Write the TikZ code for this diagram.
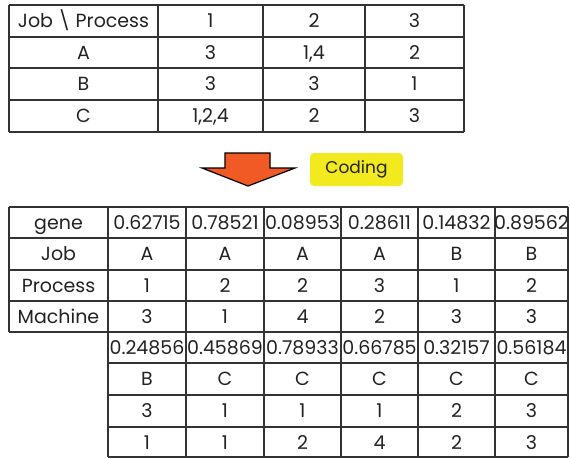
\documentclass[tikz,border=0pt]{standalone}
\usepackage{fontspec}
\setmainfont{Poppins}
\definecolor{linegray}{HTML}{333333}
\definecolor{txtgray}{HTML}{222222}
\definecolor{arroworange}{HTML}{F15A24}
\definecolor{codeyellow}{HTML}{F2EA1E}
\begin{document}
\begin{tikzpicture}[x=1pt,y=-1pt,
  grid/.style={draw=linegray, line width=1.1pt},
  cell/.style={font=\fontsize{19}{21}\selectfont, text=txtgray, inner sep=0pt,
    text height=13pt, text depth=0pt, anchor=center}]
\useasboundingbox (0,0) rectangle (570,458);

% ---------- top table ----------
\foreach \y in {5,37,68,100,132} \draw[grid] (9,\y) -- (464,\y);
\foreach \x in {9,158,263,365,464} \draw[grid] (\x,5) -- (\x,132);

\foreach[count=\c] \x/\t in {83.5/{Job \textbackslash\ Process},210.5/1,314/2,414.5/3}
  \node[cell] (h\c) at (\x,21) {\t};
\foreach[count=\c] \x/\t in {83.5/A,210.5/3,314/{1,4},414.5/2}
  \node[cell] (a\c) at (\x,52.5) {\t};
\foreach[count=\c] \x/\t in {83.5/B,210.5/3,314/3,414.5/1}
  \node[cell] (b\c) at (\x,84) {\t};
\foreach[count=\c] \x/\t in {83.5/C,210.5/{1,2,4},314/2,414.5/3}
  \node[cell] (c\c) at (\x,116) {\t};

% ---------- arrow and coding label ----------
\draw[fill=arroworange, draw=black, line width=1.2pt, line join=miter]
  (225,153) -- (270,153) -- (270,168) -- (295,168) -- (248,186)
  -- (202,168) -- (225,168) -- cycle;
\node[fill=codeyellow, rounded corners=4pt, minimum width=93pt, minimum height=33pt,
  inner sep=0pt, font=\fontsize{17}{19}\selectfont, text=txtgray] (coding) at (356.5,169.5) {Coding};

% ---------- bottom table ----------
\foreach \y in {207,238,270,301,332} \draw[grid] (9,\y) -- (568,\y);
\foreach \y in {363,395,427,457} \draw[grid] (108,\y) -- (568,\y);
\draw[grid] (9,207) -- (9,332);
\foreach \x in {108,186,264,341,418,495,568} \draw[grid] (\x,207) -- (\x,457);

\foreach[count=\c] \x/\t in {58.5/gene,147/0.62715,225/0.78521,302.5/0.08953,379.5/0.28611,456.5/0.14832,531.5/0.89562}
  \node[cell] (g\c) at (\x,222.5) {\t};
\foreach[count=\c] \x/\t in {58.5/Job,147/A,225/A,302.5/A,379.5/A,456.5/B,531.5/B}
  \node[cell] (j\c) at (\x,254) {\t};
\foreach[count=\c] \x/\t in {58.5/Process,147/1,225/2,302.5/2,379.5/3,456.5/1,531.5/2}
  \node[cell] (p\c) at (\x,285.5) {\t};
\foreach[count=\c] \x/\t in {58.5/Machine,147/3,225/1,302.5/4,379.5/2,456.5/3,531.5/3}
  \node[cell] (m\c) at (\x,316.5) {\t};

\foreach[count=\c] \x/\t in {147/0.24856,225/0.45869,302.5/0.78933,379.5/0.66785,456.5/0.32157,531.5/0.56184}
  \node[cell] (gg\c) at (\x,347.5) {\t};
\foreach[count=\c] \x/\t in {147/B,225/C,302.5/C,379.5/C,456.5/C,531.5/C}
  \node[cell] (jj\c) at (\x,379) {\t};
\foreach[count=\c] \x/\t in {147/3,225/1,302.5/1,379.5/1,456.5/2,531.5/3}
  \node[cell] (pp\c) at (\x,411) {\t};
\foreach[count=\c] \x/\t in {147/1,225/1,302.5/2,379.5/4,456.5/2,531.5/3}
  \node[cell] (mm\c) at (\x,442.5) {\t};
\end{tikzpicture}
\end{document}
